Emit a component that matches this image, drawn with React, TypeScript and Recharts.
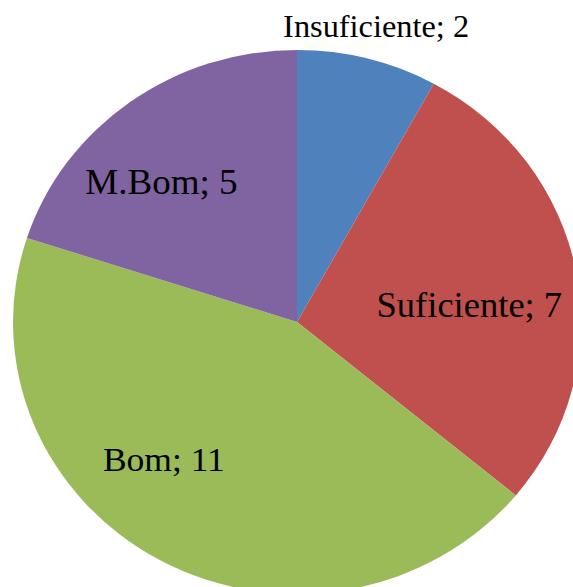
import { PieChart, Pie, Cell } from "recharts";

const categories = ["Insuficiente", "Suficiente", "Bom", "M.Bom"];
const values = [2, 7, 11, 5];

const COLORS = [
  "#4F81BD", // blue (Insuficiente)
  "#C0504D", // red (Suficiente)
  "#9BBB59", // green (Bom)
  "#8064A2", // purple (M.Bom)
];

// label placement tweaks: radius as fraction of outerRadius, angle shift in degrees
const LABEL_RADIUS = [1.12, 0.61, 0.69, 0.7];
const LABEL_SHIFT = [0, -5, -14, 7];
const LABEL_SIZE = [31, 35, 34, 35.5];

const chartData = categories.map((name, i) => ({ name, value: values[i] }));

const RADIAN = Math.PI / 180;

const renderLabel = ({ cx, cy, midAngle, outerRadius, index, name, value }: any) => {
  const r = outerRadius * LABEL_RADIUS[index];
  const a = (midAngle + LABEL_SHIFT[index]) * RADIAN;
  const x = cx + r * Math.cos(-a);
  const y = cy + r * Math.sin(-a);
  return (
    <text
      x={x}
      y={y}
      fill="#000"
      textAnchor="middle"
      dominantBaseline="central"
      fontFamily="'Liberation Serif', 'Times New Roman', serif"
      fontSize={LABEL_SIZE[index]}
    >
      {`${name}; ${value}`}
    </text>
  );
};

export default function App() {
  return (
    <div
      style={{
        position: "fixed",
        left: 0,
        top: 0,
        width: 573,
        height: 587,
        overflow: "hidden",
        background: "#fff",
      }}
    >
      <div style={{ transform: "scaleX(1.044)", transformOrigin: "297px 0" }}>
        <PieChart width={573} height={640} margin={{ top: 0, right: 0, bottom: 0, left: 0 }}>
          <Pie
            data={chartData}
            dataKey="value"
            nameKey="name"
            cx={297}
            cy={322}
            outerRadius={272}
            startAngle={90}
            endAngle={-270}
            stroke="none"
            labelLine={false}
            label={renderLabel}
            isAnimationActive={false}
          >
            {chartData.map((entry, index) => (
              <Cell key={`cell-${index}`} fill={COLORS[index]} />
            ))}
          </Pie>
        </PieChart>
      </div>
    </div>
  );
}
